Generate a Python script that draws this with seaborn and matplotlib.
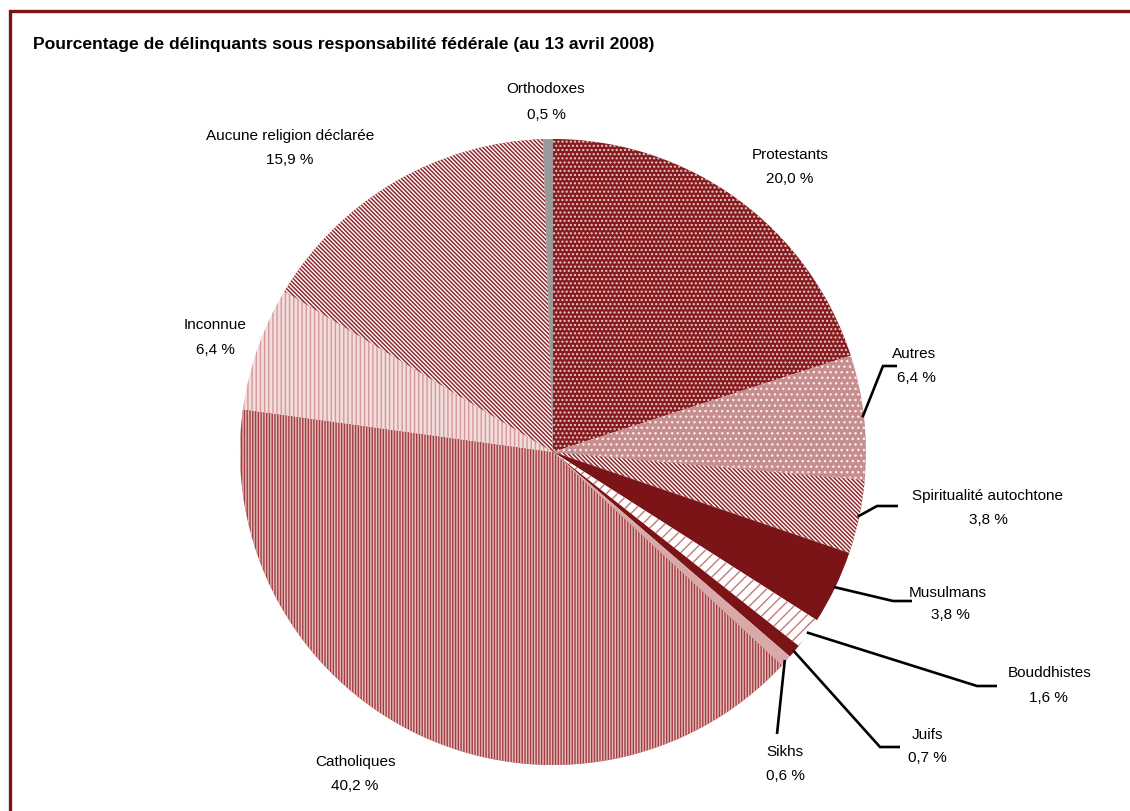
import matplotlib
matplotlib.use("Agg")
import matplotlib.pyplot as plt
from matplotlib.patches import Rectangle
import numpy as np
import seaborn as sns

# Religious affiliation of federal offenders (share of total, %)
categories = ["Protestants", "Autres", "Spiritualité autochtone", "Musulmans",
              "Bouddhistes", "Juifs", "Sikhs", "Catholiques", "Inconnue",
              "Aucune religion déclarée", "Orthodoxes"]
values = [20.0, 6.4, 3.8, 3.8, 1.6, 0.7, 0.6, 40.2, 6.4, 15.9, 0.5]
title = "Pourcentage de délinquants sous responsabilité fédérale (au 13 avril 2008)"

sns.set_theme(style="white")
plt.rcParams["font.family"] = ["Liberation Sans", "DejaVu Sans"]
plt.rcParams["hatch.linewidth"] = 1.0

W, H = 1130, 812
fig = plt.figure(figsize=(W / 100, H / 100), dpi=100)
fig.patch.set_facecolor("white")

# pie geometry in pixels (centre and radius)
cx, cy, R = 553, 453, 313
ax = fig.add_axes([(cx - R) / W, (H - cy - R) / H, 2 * R / W, 2 * R / H])

DARK = "#7b1416"
styles = {
    "Protestants": dict(fc="#861c20", hatch="....", hc="#eccaca"),
    "Autres": dict(fc="#c68e8e", hatch="...", hc="#f8ecec"),
    "Spiritualité autochtone": dict(fc="#8e2a2e", hatch=r"\\\\\\\\", hc="white"),
    "Musulmans": dict(fc=DARK),
    "Bouddhistes": dict(fc="white", hatch="///", hc="#c57a7a"),
    "Juifs": dict(fc=DARK),
    "Sikhs": dict(fc="#d9a9a9"),
    "Catholiques": dict(fc="#a03c40", hatch="||||||", hc="#e6bcbc"),
    "Inconnue": dict(fc="#f3dcdc", hatch="||||", hc="#d49a9a"),
    "Aucune religion déclarée": dict(fc="#8e2a2e", hatch=r"\\\\\\\\", hc="white"),
    "Orthodoxes": dict(fc="#999999"),
}

wedges, _ = ax.pie(values, startangle=90, counterclock=False, radius=1,
                   wedgeprops=dict(linewidth=0))
for w, name in zip(wedges, categories):
    st = styles[name]
    w.set_facecolor(st["fc"])
    if "hatch" in st:
        w.set_edgecolor(st["hc"])
        w.set_hatch(st["hatch"])
    w.set_linewidth(0)
ax.set_xlim(-1, 1)
ax.set_ylim(-1, 1)
ax.set_aspect("equal")
ax.axis("off")


def to_data(px, py):
    return (px - cx) / R, (cy - py) / R


# label placement: name centre, value centre, leader elbow/end (pixels)
layout = {
    "Orthodoxes": dict(name=(546, 89), val=(546, 115)),
    "Aucune religion déclarée": dict(name=(290, 136), val=(290, 160)),
    "Protestants": dict(name=(790, 155), val=(790, 179)),
    "Autres": dict(name=(914, 354), val=(916, 378), leader=[(883, 367), (897, 367)]),
    "Spiritualité autochtone": dict(name=(988, 496), val=(988, 520),
                                    leader=[(877, 507), (898, 507)]),
    "Musulmans": dict(name=(948, 593), val=(950, 615), leader=[(893, 602), (912, 602)]),
    "Bouddhistes": dict(name=(1050, 673), val=(1048, 698), leader=[(977, 687), (997, 687)]),
    "Juifs": dict(name=(927, 735), val=(927, 758), leader=[(880, 748), (900, 748)]),
    "Sikhs": dict(name=(785, 752), val=(785, 776), leader=[(777, 735)]),
    "Catholiques": dict(name=(355, 762), val=(355, 786)),
    "Inconnue": dict(name=(215, 325), val=(215, 350)),
}

FS = 11
for w, name, v in zip(wedges, categories, values):
    lay = layout[name]
    ax.text(*to_data(*lay["name"]), name, ha="center", va="center",
            fontsize=FS, color="black", clip_on=False)
    ax.text(*to_data(*lay["val"]), f"{v:.1f} %".replace(".", ","),
            ha="center", va="center", fontsize=FS, color="black", clip_on=False)
    if "leader" in lay:
        mid = np.deg2rad((w.theta1 + w.theta2) / 2)
        pts = [(np.cos(mid) * 0.995, np.sin(mid) * 0.995)]
        pts += [to_data(*p) for p in lay["leader"]]
        xs, ys = zip(*pts)
        ax.plot(xs, ys, color="black", lw=1.9, solid_capstyle="butt",
                solid_joinstyle="miter", clip_on=False)

fig.text(33 / W, 1 - 44 / H, title, ha="left", va="center", fontsize=12.6,
         fontweight="bold", color="black")

# outer frame
fig.patches.append(Rectangle((10 / W, -0.5), 2, (H - 11.5) / H + 0.5,
                             transform=fig.transFigure, fill=False,
                             lw=2.4, ec=DARK, figure=fig))

fig.savefig("out.png", dpi=100, facecolor="white")
